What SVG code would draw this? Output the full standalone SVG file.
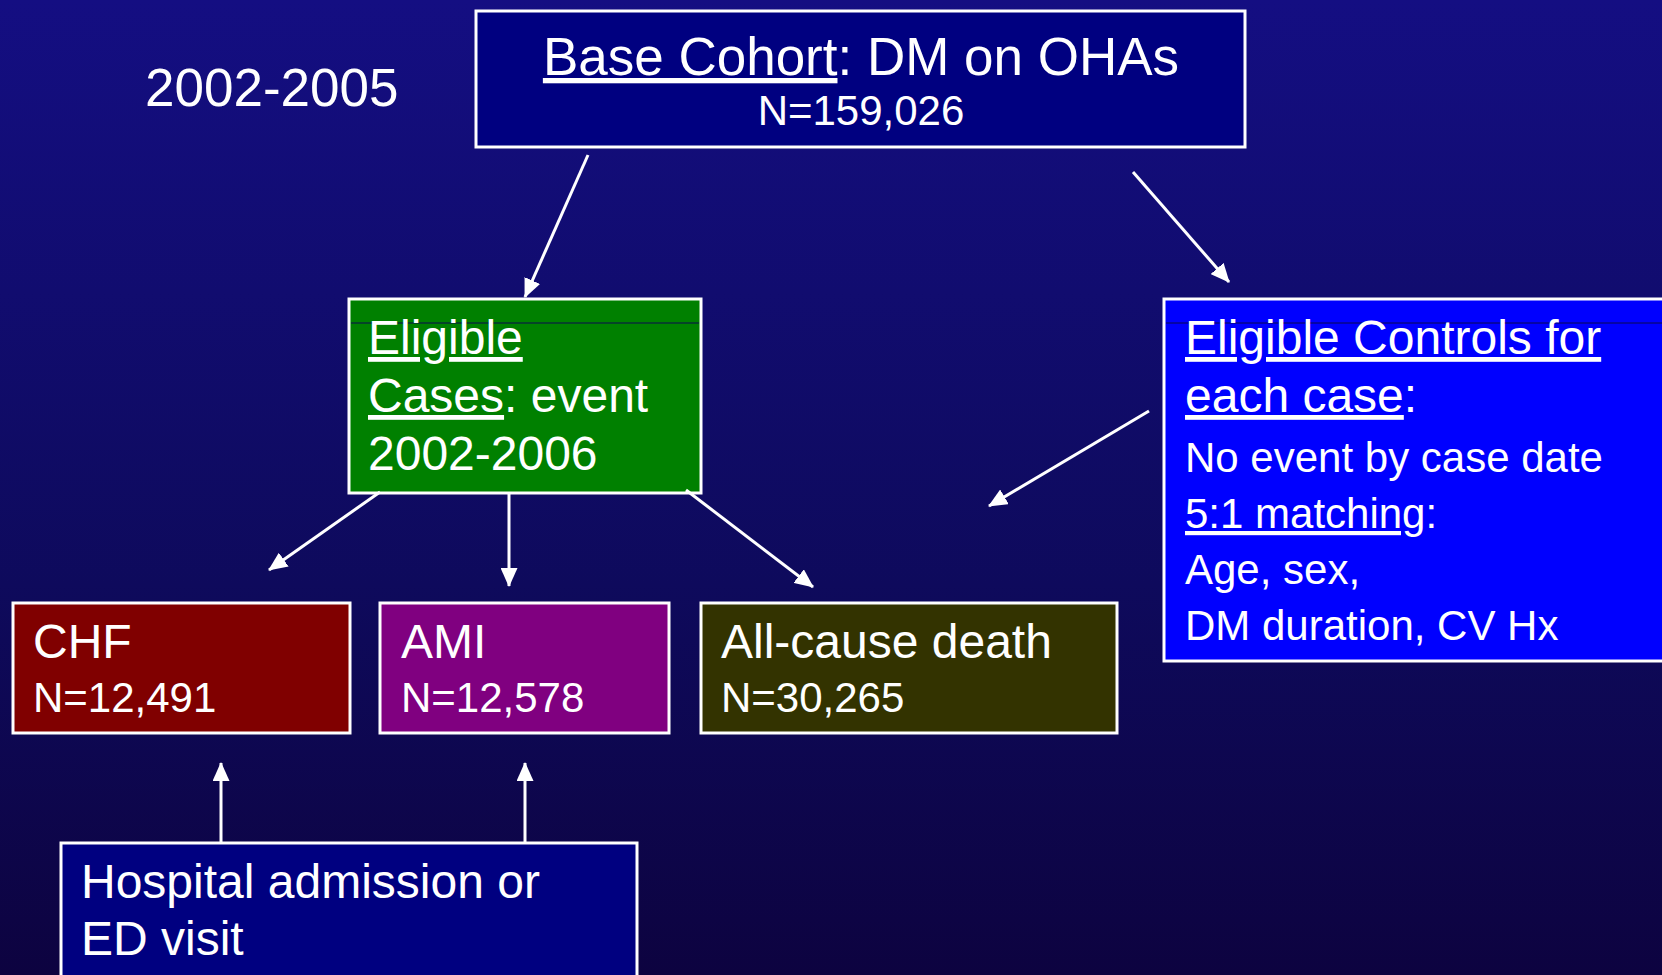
<svg xmlns="http://www.w3.org/2000/svg" width="1662" height="975" viewBox="0 0 1662 975">
<style>
text{font-family:"Liberation Sans",Arial,sans-serif;fill:#fff}
.box{stroke:#fff;stroke-width:3}
.big{font-size:48px}
.mid{font-size:42px}
.u{text-decoration:underline}
.conn line{stroke:#fff;stroke-width:3;marker-end:url(#ah)}
.rule{stroke:#0a0850;stroke-width:1.2}
</style>
<defs>
<linearGradient id="bg" x1="0" y1="0" x2="0" y2="1">
<stop offset="0" stop-color="#140E82"/>
<stop offset="0.6" stop-color="#0E0A5C"/>
<stop offset="1" stop-color="#0D0340"/>
</linearGradient>
<marker id="ah" markerUnits="userSpaceOnUse" markerWidth="19" markerHeight="17" viewBox="0 0 19 17" refX="18" refY="8.5" orient="auto">
<path d="M0,0 L19,8.5 L0,17 z" fill="#fff"/>
</marker>
</defs>
<rect width="1662" height="975" fill="url(#bg)"/>
<text x="145" y="106" style="font-size:53px">2002-2005</text>
<g id="base">
<rect class="box" x="476" y="11" width="769" height="136" fill="#000080"/>
<text x="861" y="75" text-anchor="middle" style="font-size:53px"><tspan class="u">Base Cohort</tspan>: DM on OHAs</text>
<text x="861" y="125" text-anchor="middle" class="mid">N=159,026</text>
</g>
<g id="cases">
<rect class="box" x="349" y="299" width="352" height="194" fill="#008000"/>
<line class="rule" x1="351" y1="323" x2="699" y2="323"/>
<text x="368" y="354" class="big"><tspan class="u">Eligible</tspan></text>
<text x="368" y="412" class="big"><tspan class="u">Cases</tspan>: event</text>
<text x="368" y="470" class="big">2002-2006</text>
</g>
<g id="controls">
<rect class="box" x="1164" y="299" width="520" height="362" fill="#0000FF"/>
<line class="rule" x1="1166" y1="323" x2="1662" y2="323"/>
<text x="1185" y="354" class="big"><tspan class="u">Eligible Controls for</tspan></text>
<text x="1185" y="412" class="big"><tspan class="u">each case</tspan>:</text>
<text x="1185" y="472" class="mid">No event by case date</text>
<text x="1185" y="528" class="mid"><tspan class="u">5:1 matching</tspan>:</text>
<text x="1185" y="584" class="mid">Age, sex,</text>
<text x="1185" y="640" class="mid">DM duration, CV Hx</text>
</g>
<g id="chf">
<rect class="box" x="13" y="603" width="337" height="130" fill="#800000"/>
<text x="33" y="658" class="big">CHF</text>
<text x="33" y="712" class="mid">N=12,491</text>
</g>
<g id="ami">
<rect class="box" x="380" y="603" width="289" height="130" fill="#800080"/>
<text x="401" y="658" class="big">AMI</text>
<text x="401" y="712" class="mid">N=12,578</text>
</g>
<g id="death">
<rect class="box" x="701" y="603" width="416" height="130" fill="#333300"/>
<text x="721" y="658" class="big">All-cause death</text>
<text x="721" y="712" class="mid">N=30,265</text>
</g>
<g id="hospital">
<rect class="box" x="61" y="843" width="576" height="150" fill="#000080"/>
<text x="81" y="898" class="big">Hospital admission or</text>
<text x="81" y="955" class="big">ED visit</text>
</g>
<g id="connectors" class="conn">
<line x1="588" y1="155" x2="525" y2="297"/>
<line x1="1133" y1="172" x2="1229" y2="282"/>
<line x1="1149" y1="411" x2="989" y2="506"/>
<line x1="380" y1="492" x2="269" y2="570"/>
<line x1="509" y1="492" x2="509" y2="586"/>
<line x1="686" y1="490" x2="813" y2="587"/>
<line x1="221" y1="843" x2="221" y2="763"/>
<line x1="525" y1="843" x2="525" y2="763"/>
</g>
</svg>
